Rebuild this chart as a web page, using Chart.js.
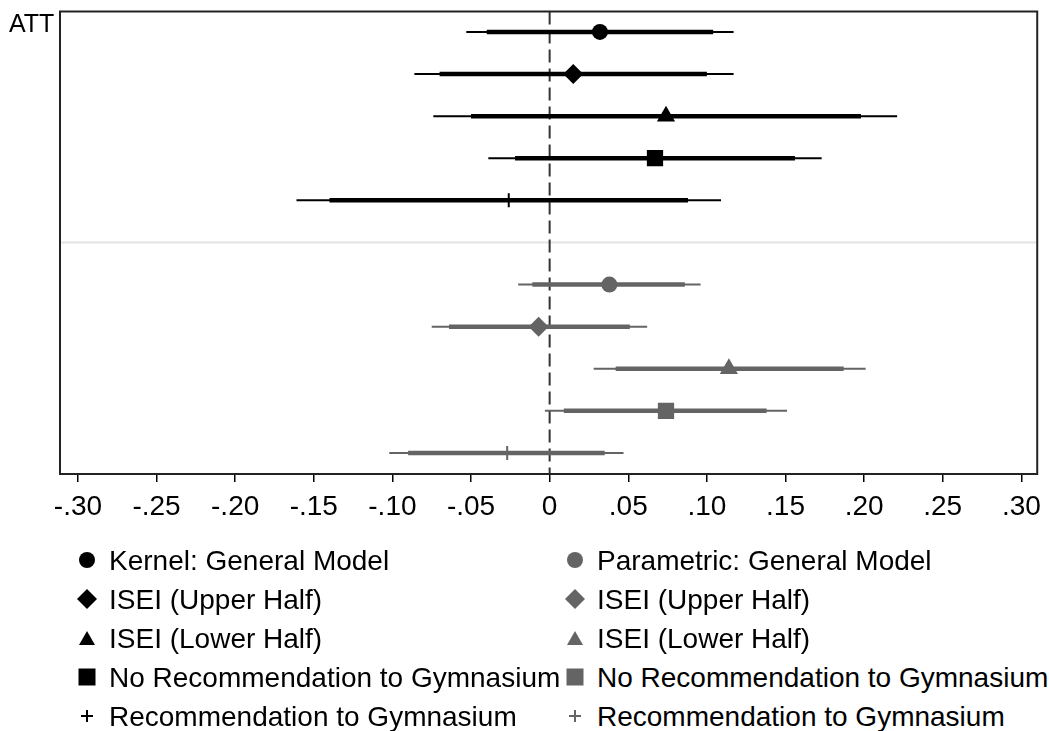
<!DOCTYPE html>
<html lang="en">
<head>
  <meta charset="UTF-8">
  <title>ATT estimates</title>
  <script src="https://cdn.jsdelivr.net/npm/chart.js"></script>
  <style>
    body {
      margin: 0;
      background: #ffffff;
      font-family: "Liberation Sans", Arial, sans-serif;
    }
    .chart-box {
      position: absolute;
      left: 0;
      top: 0;
      width: 1049px;
      height: 545px;
    }
    .legend {
      position: absolute;
      left: 0;
      top: 541px;
      width: 1049px;
      font-size: 28px;
      color: #000;
    }
    .legend .item {
      position: absolute;
      height: 39px;
      line-height: 39px;
      white-space: nowrap;
    }
    .legend svg {
      position: absolute;
      left: 0;
      top: 9px;
    }
    .legend span {
      position: absolute;
      left: 32px;
      top: 0;
    }
  </style>
</head>
<body>
  <div class="chart-box">
    <canvas id="coefChart"></canvas>
  </div>
  <div class="legend" id="legend"></div>

  <script>
    // estimates (kernel matching vs. parametric)
    const groupLabels = [
      "Kernel: General Model",
      "ISEI (Upper Half)",
      "ISEI (Lower Half)",
      "No Recommendation to Gymnasium",
      "Recommendation to Gymnasium"
    ];
    const paramLabels = [
      "Parametric: General Model",
      "ISEI (Upper Half)",
      "ISEI (Lower Half)",
      "No Recommendation to Gymnasium",
      "Recommendation to Gymnasium"
    ];

    const kernelPoint = [0.032, 0.015, 0.074, 0.067, -0.026];
    const kernelLo90  = [-0.040, -0.070, -0.050, -0.022, -0.140];
    const kernelHi90  = [0.104, 0.100, 0.198, 0.156, 0.088];
    const kernelLo95  = [-0.053, -0.086, -0.074, -0.039, -0.161];
    const kernelHi95  = [0.117, 0.117, 0.221, 0.173, 0.109];

    const paramPoint = [0.038, -0.007, 0.114, 0.074, -0.027];
    const paramLo90  = [-0.011, -0.064, 0.042, 0.009, -0.090];
    const paramHi90  = [0.086, 0.051, 0.187, 0.138, 0.035];
    const paramLo95  = [-0.020, -0.075, 0.028, -0.003, -0.102];
    const paramHi95  = [0.096, 0.062, 0.201, 0.151, 0.047];

    const xTicks = [-0.30, -0.25, -0.20, -0.15, -0.10, -0.05, 0, 0.05, 0.10, 0.15, 0.20, 0.25, 0.30];
    const xTickLabels = ["-.30", "-.25", "-.20", "-.15", "-.10", "-.05", "0", ".05", ".10", ".15", ".20", ".25", ".30"];

    const markerStyles = ["circle", "rectRot", "triangle", "rect", "cross"];
    const markerSizes = [8, 10, 10.5, 11.5, 7];

    const BLACK = "#000000";
    const GREY = "#646464";

    function buildDatasets(point, lo90, hi90, lo95, hi95, color, rowOffset) {
      const sets = [];
      point.forEach((p, i) => {
        const row = i + rowOffset;
        sets.push({
          type: "line",
          data: [{ x: lo95[i], y: row }, { x: hi95[i], y: row }],
          borderColor: color,
          borderWidth: 2,
          pointRadius: 0,
          borderCapStyle: "butt",
          order: 3
        });
        sets.push({
          type: "line",
          data: [{ x: lo90[i], y: row }, { x: hi90[i], y: row }],
          borderColor: color,
          borderWidth: 4.5,
          pointRadius: 0,
          borderCapStyle: "butt",
          order: 2
        });
      });
      sets.push({
        type: "scatter",
        data: point.map((p, i) => ({ x: p, y: i + rowOffset })),
        pointStyle: markerStyles,
        pointRadius: markerSizes,
        pointBackgroundColor: color,
        pointBorderColor: color,
        pointBorderWidth: markerStyles.map(s => s === "cross" ? 2 : 0),
        order: 1
      });
      return sets;
    }

    const datasets = [
      ...buildDatasets(kernelPoint, kernelLo90, kernelHi90, kernelLo95, kernelHi95, BLACK, 0),
      ...buildDatasets(paramPoint, paramLo90, paramHi90, paramLo95, paramHi95, GREY, 6)
    ];

    // frame, zero line, separator, and the "ATT" label
    const decorations = {
      id: "decorations",
      beforeDatasetsDraw(chart) {
        const { ctx, chartArea: a, scales } = chart;
        const x0 = scales.x.getPixelForValue(0);
        const ySep = scales.y.getPixelForValue(5);
        ctx.save();
        ctx.strokeStyle = "#e3e3e3";
        ctx.lineWidth = 2;
        ctx.beginPath();
        ctx.moveTo(a.left, ySep);
        ctx.lineTo(a.right, ySep);
        ctx.stroke();

        ctx.strokeStyle = "#333333";
        ctx.lineWidth = 2;
        ctx.setLineDash([13, 6]);
        ctx.beginPath();
        ctx.moveTo(x0, a.top);
        ctx.lineTo(x0, a.bottom);
        ctx.stroke();
        ctx.restore();
      },
      afterDraw(chart) {
        const { ctx, chartArea: a } = chart;
        ctx.save();
        ctx.strokeStyle = "#222222";
        ctx.lineWidth = 2;
        ctx.strokeRect(a.left, a.top, a.right - a.left, a.bottom - a.top);
        ctx.fillStyle = "#000";
        ctx.font = '25px "Liberation Sans", Arial, sans-serif';
        ctx.textBaseline = "alphabetic";
        ctx.textAlign = "left";
        ctx.fillText("ATT", 9, 31.5);
        ctx.restore();
      }
    };

    new Chart(document.getElementById("coefChart"), {
      type: "scatter",
      data: { datasets: datasets },
      options: {
        responsive: true,
        maintainAspectRatio: false,
        animation: false,
        devicePixelRatio: 1,
        layout: { padding: { left: 60, right: 8, top: 9.5, bottom: 0 } },
        plugins: {
          legend: { display: false },
          tooltip: { enabled: false }
        },
        scales: {
          x: {
            type: "linear",
            position: "bottom",
            min: -0.3114,
            max: 0.3101,
            afterBuildTicks: scale => {
              scale.ticks = xTicks.map(v => ({ value: v }));
            },
            afterFit: scale => {
              scale.height = 71;
            },
            ticks: {
              autoSkip: false,
              maxRotation: 0,
              padding: 8,
              color: "#000",
              font: { family: "'Liberation Sans', Arial, sans-serif", size: 28 },
              callback: (value, index) => xTickLabels[index]
            },
            grid: {
              drawOnChartArea: false,
              drawTicks: true,
              tickLength: 8,
              color: "#000",
              lineWidth: 1.5
            },
            border: { display: false }
          },
          y: {
            type: "linear",
            display: false,
            reverse: true,
            min: -0.485,
            max: 10.5
          }
        }
      },
      plugins: [decorations]
    });

    // two-column legend below the plot
    function markerSvg(style, color) {
      let shape = "";
      if (style === "circle") shape = `<circle cx="10" cy="10" r="8" fill="${color}"/>`;
      if (style === "rectRot") shape = `<polygon points="0,10 10,0 20,10 10,20" fill="${color}"/>`;
      if (style === "triangle") shape = `<polygon points="2,17 10,3 18,17" fill="${color}"/>`;
      if (style === "rect") shape = `<rect x="1.5" y="1.5" width="17" height="17" fill="${color}"/>`;
      if (style === "cross") shape = `<path d="M10 4 V16 M4 10 H16" stroke="${color}" stroke-width="2"/>`;
      return `<svg width="20" height="20" viewBox="0 0 20 20">${shape}</svg>`;
    }

    const legendEl = document.getElementById("legend");
    const columns = [
      { labels: groupLabels, color: BLACK, left: 77 },
      { labels: paramLabels, color: GREY, left: 565 }
    ];
    columns.forEach(col => {
      col.labels.forEach((label, i) => {
        const item = document.createElement("div");
        item.className = "item";
        item.style.left = col.left + "px";
        item.style.top = (i * 39) + "px";
        item.innerHTML = markerSvg(markerStyles[i], col.color) + `<span>${label}</span>`;
        legendEl.appendChild(item);
      });
    });
  </script>
</body>
</html>
